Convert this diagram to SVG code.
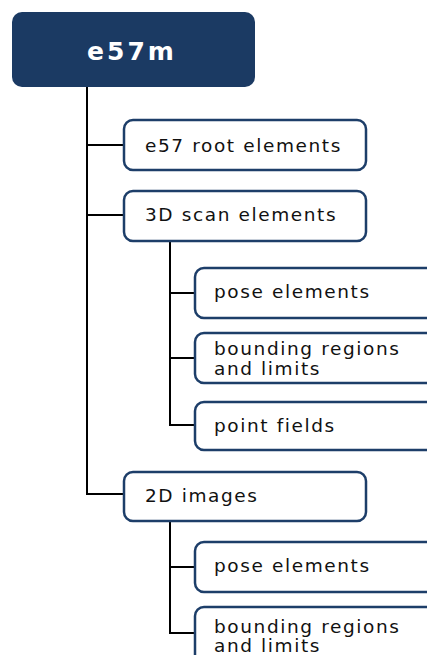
<svg xmlns="http://www.w3.org/2000/svg" width="427" height="655" viewBox="0 0 427 655">
  <style>
    .box { fill: #ffffff; stroke: #1d3e69; stroke-width: 2.5; }
    .lbl { font-family: "DejaVu Sans", Verdana, sans-serif; font-size: 18.5px; fill: #111111; letter-spacing: 1.6px; }
    .title { font-family: "DejaVu Sans", Verdana, sans-serif; font-size: 25px; font-weight: bold; fill: #ffffff; letter-spacing: 3px; }
    .wire { fill: none; stroke: #000000; stroke-width: 2; }
  </style>
  <rect width="427" height="655" fill="#ffffff"/>

  <!-- tree connectors -->
  <g id="connectors">
    <path class="wire" d="M87,87 V494 H124"/>
    <path class="wire" d="M87,145 H124"/>
    <path class="wire" d="M87,215 H124"/>
    <path class="wire" d="M170,242 V425 H195"/>
    <path class="wire" d="M170,293 H195"/>
    <path class="wire" d="M170,358 H195"/>
    <path class="wire" d="M170,521 V633 H195"/>
    <path class="wire" d="M170,567 H195"/>
  </g>

  <g id="root">
    <rect x="12" y="12" width="243" height="75" rx="10" fill="#1b3a63"/>
    <text class="title" x="132" y="60" text-anchor="middle">e57m</text>
  </g>

  <g id="root-elements">
    <rect class="box" x="124" y="120" width="242" height="50" rx="9"/>
    <text class="lbl" x="145" y="152">e57 root elements</text>
  </g>

  <g id="scan3d">
    <rect class="box" x="124" y="191" width="242" height="50" rx="9"/>
    <text class="lbl" x="145" y="221">3D scan elements</text>
  </g>

  <g id="scan3d-pose">
    <rect class="box" x="195" y="268" width="250" height="50" rx="9"/>
    <text class="lbl" x="214" y="298">pose elements</text>
  </g>

  <g id="scan3d-bounds">
    <rect class="box" x="195" y="333" width="250" height="50" rx="9"/>
    <text class="lbl" x="214" y="355">bounding regions</text>
    <text class="lbl" x="214" y="375">and limits</text>
  </g>

  <g id="scan3d-points">
    <rect class="box" x="195" y="402" width="250" height="48" rx="9"/>
    <text class="lbl" x="214" y="432">point fields</text>
  </g>

  <g id="images2d">
    <rect class="box" x="124" y="472" width="242" height="49" rx="9"/>
    <text class="lbl" x="145" y="502">2D images</text>
  </g>

  <g id="images2d-pose">
    <rect class="box" x="195" y="542" width="250" height="50" rx="9"/>
    <text class="lbl" x="214" y="572">pose elements</text>
  </g>

  <g id="images2d-bounds">
    <rect class="box" x="195" y="607" width="250" height="60" rx="9"/>
    <text class="lbl" x="214" y="633">bounding regions</text>
    <text class="lbl" x="214" y="652">and limits</text>
  </g>
</svg>
